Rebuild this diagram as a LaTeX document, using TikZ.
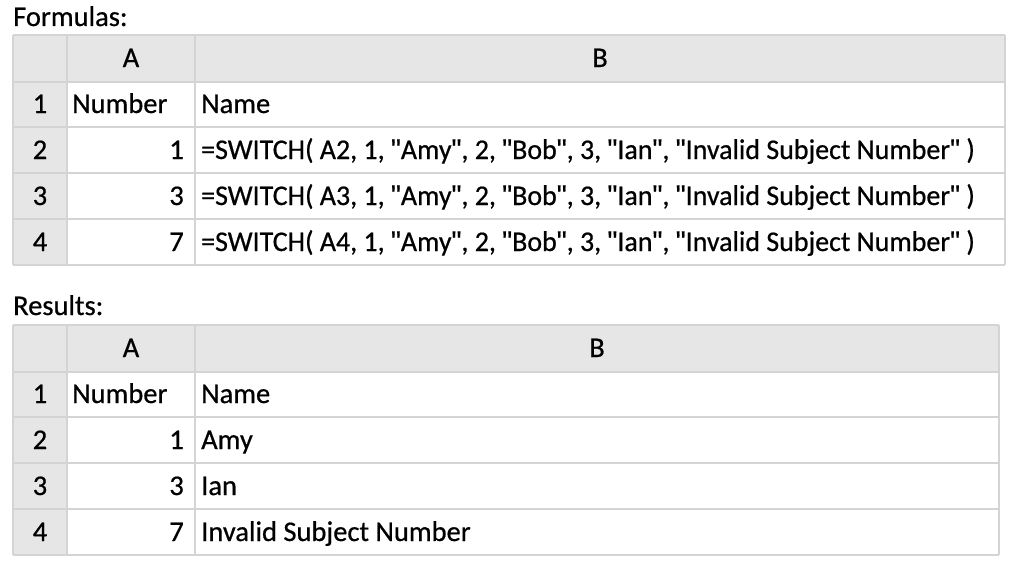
\documentclass[tikz,border=0pt]{standalone}
\usepackage{fontspec}
\setmainfont{Carlito}[FakeBold=0.6]
\newfontfamily\qfont{Liberation Sans}[FakeBold=0.6]
\definecolor{gridc}{HTML}{D4D4D4}
\definecolor{headc}{HTML}{E6E6E6}
\newcommand{\qd}{{\qfont\symbol{34}}}
\begin{document}
\begin{tikzpicture}[x=1pt,y=-1pt,
  txt/.style={inner sep=0pt,font=\fontsize{28.5}{32}\selectfont,text=black},
  ftxt/.style={txt,xscale=0.981},
  gl/.style={draw=gridc,line width=1.6pt}]
\useasboundingbox[fill=white] (0,0) rectangle (1024,578);
% ---------- Table 1 ----------
\fill[headc] (13,35) rectangle (1005,82);
\fill[headc] (13,35) rectangle (67,265);
\foreach \y in {35,82,127,173,219,265} \draw[gl] (13,\y) -- (1005,\y);
\foreach \x in {13,67,195,1005} \draw[gl] (\x,35) -- (\x,265);
\node[txt,anchor=base west] (t1title) at (13,26) {Formulas:};
\node[txt,anchor=base] (t1A) at (131,67) {A};
\node[txt,anchor=base] (t1B) at (600,67) {B};
\node[txt,anchor=base] (t1r1) at (40,113) {1};
\node[txt,anchor=base] (t1r2) at (40,159) {2};
\node[txt,anchor=base] (t1r3) at (40,205) {3};
\node[txt,anchor=base] (t1r4) at (40,251) {4};
\node[txt,anchor=base west] (t1a1) at (72,113) {Number};
\node[txt,anchor=base west] (t1b1) at (201,113) {Name};
\node[txt,anchor=base east] (t1a2) at (184,159) {1};
\node[txt,anchor=base east] (t1a3) at (184,205) {3};
\node[txt,anchor=base east] (t1a4) at (184,251) {7};
\node[ftxt,anchor=base west] (t1b2) at (201,159) {=SWITCH( A2, 1, \qd Amy\qd, 2, \qd Bob\qd, 3, \qd Ian\qd, \qd Invalid Subject Number\qd\ )};
\node[ftxt,anchor=base west] (t1b3) at (201,205) {=SWITCH( A3, 1, \qd Amy\qd, 2, \qd Bob\qd, 3, \qd Ian\qd, \qd Invalid Subject Number\qd\ )};
\node[ftxt,anchor=base west] (t1b4) at (201,251) {=SWITCH( A4, 1, \qd Amy\qd, 2, \qd Bob\qd, 3, \qd Ian\qd, \qd Invalid Subject Number\qd\ )};
% ---------- Table 2 ----------
\fill[headc] (13,325) rectangle (999,372);
\fill[headc] (13,325) rectangle (67,555);
\foreach \y in {325,372,417,463,509,555} \draw[gl] (13,\y) -- (999,\y);
\foreach \x in {13,67,195,999} \draw[gl] (\x,325) -- (\x,555);
\node[txt,anchor=base west] (t2title) at (13,315) {Results:};
\node[txt,anchor=base] (t2A) at (131,357) {A};
\node[txt,anchor=base] (t2B) at (597,357) {B};
\node[txt,anchor=base] (t2r1) at (40,403) {1};
\node[txt,anchor=base] (t2r2) at (40,449) {2};
\node[txt,anchor=base] (t2r3) at (40,495) {3};
\node[txt,anchor=base] (t2r4) at (40,541) {4};
\node[txt,anchor=base west] (t2a1) at (72,403) {Number};
\node[txt,anchor=base west] (t2b1) at (201,403) {Name};
\node[txt,anchor=base east] (t2a2) at (184,449) {1};
\node[txt,anchor=base east] (t2a3) at (184,495) {3};
\node[txt,anchor=base east] (t2a4) at (184,541) {7};
\node[txt,anchor=base west] (t2b2) at (201,449) {Amy};
\node[txt,anchor=base west] (t2b3) at (201,495) {Ian};
\node[txt,anchor=base west] (t2b4) at (201,541) {Invalid Subject Number};
\end{tikzpicture}
\end{document}
